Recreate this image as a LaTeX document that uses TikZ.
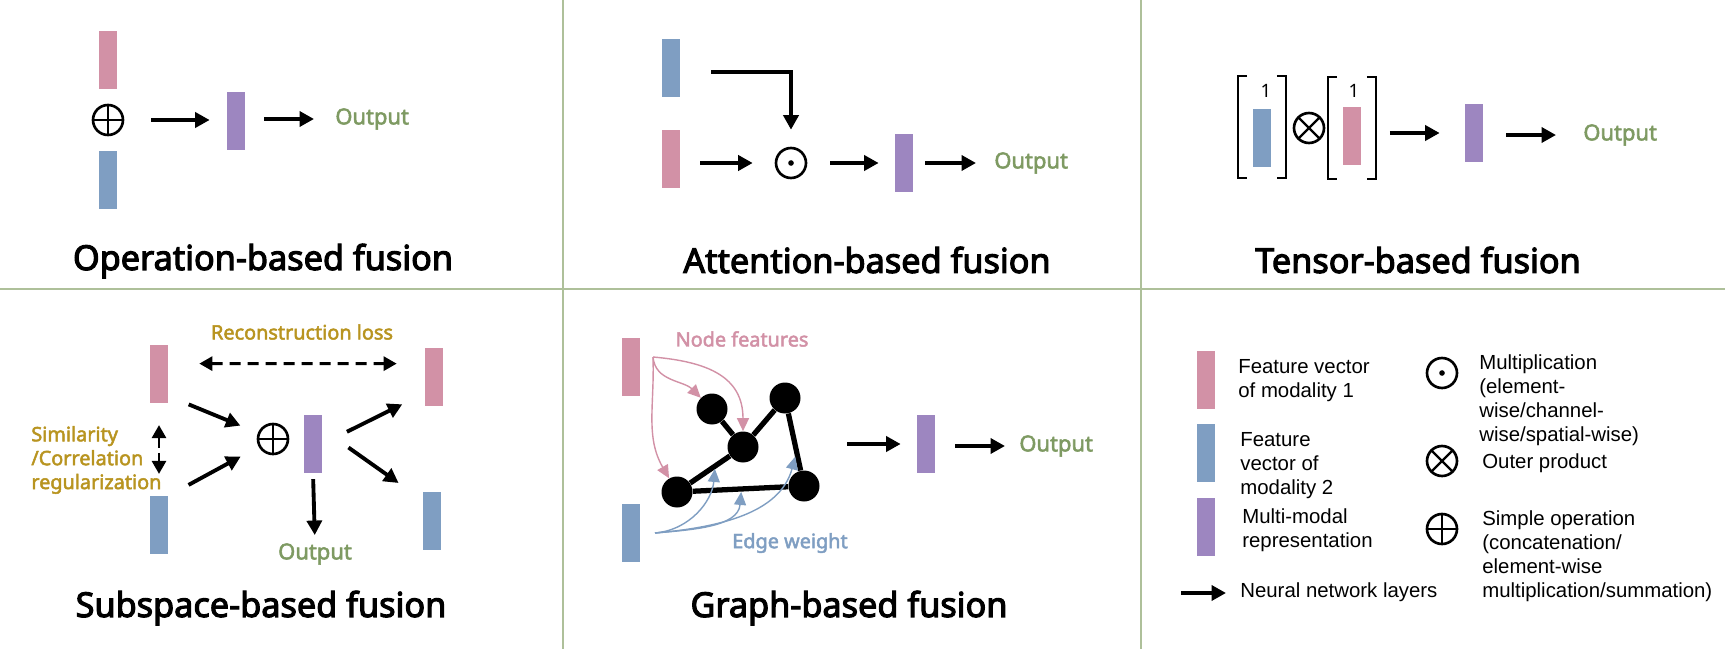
\documentclass[tikz,border=0pt]{standalone}
\usepackage{fontspec}
\setmainfont{Liberation Sans}
\newfontfamily\headfont{Noto Sans}[FakeBold=3.2]
\newfontfamily\tagfont{Noto Sans}[FakeBold=2.4]
\newfontfamily\plainfont{Noto Sans}
\usetikzlibrary{arrows.meta}
\definecolor{modone}{HTML}{D291A6}
\definecolor{modtwo}{HTML}{7F9EC2}
\definecolor{fusedc}{HTML}{9D86C0}
\definecolor{outc}{HTML}{7E9A62}
\definecolor{lossc}{HTML}{B89420}
\definecolor{gridc}{HTML}{AEC09A}
\tikzset{
  vec/.style = {rectangle, minimum width=0.36cm, minimum height=1.15cm, inner sep=0pt},
  mod1/.style = {vec, fill=modone},
  mod2/.style = {vec, fill=modtwo},
  fused/.style = {vec, fill=fusedc},
  matbox/.style = {minimum width=0.94cm, minimum height=2.04cm, inner sep=0pt},
  op/.style = {circle, draw, line width=1.5pt, minimum size=0.6cm, inner sep=0pt},
  osum/.style = {op, path picture={\draw[line width=1.3pt] (path picture bounding box.north) -- (path picture bounding box.south) (path picture bounding box.west) -- (path picture bounding box.east);}},
  oprod/.style = {op, path picture={\draw[line width=1.3pt] (path picture bounding box.north west) -- (path picture bounding box.south east) (path picture bounding box.south west) -- (path picture bounding box.north east);}},
  odot/.style = {op, path picture={\fill (path picture bounding box.center) circle (1.6pt);}},
  nn/.style = {line width=2.2pt, -{Triangle[length=0.29cm,width=0.3cm]}},
  lossarrow/.style = {line width=1.6pt, {Triangle[length=0.26cm,width=0.28cm]}-{Triangle[length=0.26cm,width=0.28cm]}},
  feed/.style = {line width=0.8pt, -{Triangle[length=0.26cm,width=0.24cm]}},
  gnode/.style = {circle, fill=black, minimum size=0.62cm, inner sep=0pt},
  gedge/.style = {line width=3pt},
  panelname/.style = {font=\headfont\fontsize{19.5}{22}\selectfont, inner sep=0pt},
  outtxt/.style = {font=\tagfont\fontsize{12.5}{14}\selectfont, text=outc, inner sep=0pt},
  lbl/.style = {font=\tagfont\fontsize{11.3}{13.6}\selectfont, inner sep=0pt, align=left},
  legtxt/.style = {font=\fontsize{11.6}{13.7}\selectfont, inner sep=0pt, align=left, anchor=west},
  brk/.style = {line width=1pt},
  divider/.style = {gridc, line width=1.2pt}
}

\begin{document}
\begin{tikzpicture}[x=0.02cm, y=-0.02cm]
  \useasboundingbox (0,0) rectangle (1725,649);

  \draw[divider] (563,0) -- (563,649);
  \draw[divider] (1141,0) -- (1141,649);
  \draw[divider] (0,289) -- (1725,289);

  % operation-based fusion
  \node (p1a) at (108,60) [mod1] {};
  \node (p1s) at (108,120) [osum] {};
  \node (p1b) at (108,180) [mod2] {};
  \node (p1f) at (236,121) [fused] {};
  \node (p1o) at (335,119) [outtxt, anchor=west] {Output};
  \draw[nn, shorten <=0.54cm, shorten >=0.34cm] (p1s.east) -- (p1s.east -| p1f.west);
  \draw[nn, shorten <=0.38cm, shorten >=0.42cm] (p1f.east |- p1o.west) -- (p1o.west);
  \node (t1) at (263,261) [panelname] {Operation-based fusion};

  % attention-based fusion
  \node (p2b) at (671,68) [mod2] {};
  \node (p2a) at (671,159) [mod1] {};
  \node (p2m) at (791,163) [odot] {};
  \node (p2f) at (904,163) [fused] {};
  \node (p2o) at (994,163) [outtxt, anchor=west] {Output};
  \coordinate (p2k) at (711,72);
  \draw[nn, shorten >=0.34cm] (p2k) -| (p2m.north);
  \draw[nn, shorten <=0.4cm, shorten >=0.44cm] (p2a.east |- p2m.west) -- (p2m.west);
  \draw[nn, shorten <=0.46cm, shorten >=0.32cm] (p2m.east) -- (p2f.west);
  \draw[nn, shorten <=0.24cm, shorten >=0.36cm] (p2f.east) -- (p2o.west);
  \node (t2) at (867,260) [panelname] {Attention-based fusion};

  % tensor-based fusion
  \node (p3l) at (1262,127) [matbox] {};
  \node (p3r) at (1352,128) [matbox] {};
  \draw[brk] ([xshift=0.18cm]p3l.north west) -| (p3l.south west) -- ++(0.18cm,0);
  \draw[brk] ([xshift=-0.18cm]p3l.north east) -| (p3l.south east) -- ++(-0.18cm,0);
  \draw[brk] ([xshift=0.18cm]p3r.north west) -| (p3r.south west) -- ++(0.18cm,0);
  \draw[brk] ([xshift=-0.18cm]p3r.north east) -| (p3r.south east) -- ++(-0.18cm,0);
  \node (p3b) at (1262,138) [mod2] {};
  \node (p3a) at (1352,136) [mod1] {};
  \node (p3one) at (1266,91) [font=\plainfont\fontsize{10.5}{12}\selectfont] {1};
  \node (p3two) at (1354,91) [font=\plainfont\fontsize{10.5}{12}\selectfont] {1};
  \node (p3x) at (1309,128) [oprod] {};
  \node (p3f) at (1474,133) [fused] {};
  \node (p3o) at (1583,135) [outtxt, anchor=west] {Output};
  \draw[nn, shorten <=0.28cm, shorten >=0.5cm] (p3r.east |- p3f.west) -- (p3f.west);
  \draw[nn, shorten <=0.46cm, shorten >=0.54cm] (p3f.east |- p3o.west) -- (p3o.west);
  \node (t3) at (1418,260) [panelname] {Tensor-based fusion};

  % subspace-based fusion
  \node (p4l) at (302,332) [lbl, text=lossc] {Reconstruction loss};
  \node (p4a) at (159,374) [mod1] {};
  \node (p4c) at (434,377) [mod1] {};
  \node (p4b) at (159,525) [mod2] {};
  \node (p4d) at (432,521) [mod2] {};
  \node (p4s) at (273,439) [osum] {};
  \node (p4f) at (313,444) [fused] {};
  \node (p4o) at (315,554) [outtxt] {Output};
  \node (p4r) at (31,460) [lbl, text=lossc, anchor=west] {Similarity\\/Correlation\\regularization};
  \draw[lossarrow, dash pattern=on 0.22cm off 0.14cm, shorten <=0.62cm, shorten >=0.56cm] (p4a.48) -- (p4c.125);
  \draw[lossarrow, dash pattern=on 0.21cm off 0.1cm, shorten <=0.44cm, shorten >=0.44cm] (p4a.south) -- (p4b.north);
  \draw[nn, shorten <=0.44cm, shorten >=0.38cm] (p4a.-67) -- (p4s);
  \draw[nn, shorten <=0.46cm, shorten >=0.41cm] (p4b.north east) -- (p4s);
  \draw[nn, shorten <=0.55cm, shorten >=0.5cm] (p4f.east) -- (p4c.240);
  \draw[nn, shorten <=0.64cm, shorten >=0.59cm] (p4f.58) -- (p4d.114);
  \draw[nn, shorten <=0.12cm, shorten >=0.16cm] (p4f.south) -- (p4o.north);
  \node (t4) at (261,608) [panelname] {Subspace-based fusion};

  % graph-based fusion
  \node (p5a) at (631,367) [mod1] {};
  \node (p5b) at (631,533) [mod2] {};
  \node (p5n) at (742,339) [lbl, text=modone] {Node features};
  \node (p5w) at (790,543) [lbl, text=modtwo] {Edge weight};
  \node (g1) at (712,409) [gnode] {};
  \node (g2) at (785,398) [gnode] {};
  \node (g3) at (743,447) [gnode] {};
  \node (g4) at (677,492) [gnode] {};
  \node (g5) at (804,486) [gnode] {};
  \draw[gedge] (g1) -- (g3) -- (g2) -- (g5) -- (g4) -- (g3);
  \path (g3) -- coordinate[pos=0.37] (e34) (g4);
  \path (g4) -- coordinate[pos=0.51] (e45) (g5);
  \path (g2) -- coordinate[pos=0.67] (e25) (g5);
  \coordinate (p5p) at (653,357);
  \coordinate (p5q) at (655,533);
  \draw[feed, modone] (p5p) to[out=-85, in=135] (g1);
  \draw[feed, modone] (p5p) to[out=-5, in=90, looseness=1.2] (g3);
  \draw[feed, modone] (p5p) to[out=-88, in=120] (g4);
  \draw[feed, modtwo, shorten >=0.06cm] (p5q) to[out=5, in=-95] (e34);
  \draw[feed, modtwo, shorten >=0.06cm] (p5q) to[out=5, in=-95] (e45);
  \draw[feed, modtwo, shorten >=0.1cm] (p5q) to[out=5, in=-105] (e25);
  \node (p5f) at (926,444) [fused] {};
  \node (p5o) at (1019,446) [outtxt, anchor=west] {Output};
  \draw[nn, shorten <=0.55cm, shorten >=0.32cm] (g5.east |- p5f.west) -- (p5f.west);
  \draw[nn, shorten <=0.4cm, shorten >=0.28cm] (p5f.east |- p5o.west) -- (p5o.west);
  \node (t5) at (849,608) [panelname] {Graph-based fusion};

  % legend
  \node (k1) at (1206,380) [mod1] {};
  \node (k2) at (1206,453) [mod2] {};
  \node (k3) at (1206,527) [fused] {};
  \node (k1t) at (1238,381) [legtxt] {Feature vector\\of modality 1};
  \node (k2t) at (1240,466) [legtxt] {Feature\\vector of\\modality 2};
  \node (k3t) at (1242,530) [legtxt] {Multi-modal\\representation};
  \coordinate (k4a) at (1181,593);
  \node (k4t) at (1240,592) [legtxt] {Neural network layers};
  \draw[nn, shorten >=0.28cm] (k4a) -- (k4a -| k4t.west);
  \node (k5) at (1442,373) [odot] {};
  \node (k5t) at (1479,400) [legtxt] {Multiplication\\(element-\\wise/channel-\\wise/spatial-wise)};
  \node (k6) at (1442,461) [oprod] {};
  \node (k6t) at (1482,463) [legtxt] {Outer product};
  \node (k7) at (1442,529) [osum] {};
  \node (k7t) at (1482,556) [legtxt] {Simple operation\\(concatenation/\\element-wise\\multiplication/summation)};
\end{tikzpicture}
\end{document}
